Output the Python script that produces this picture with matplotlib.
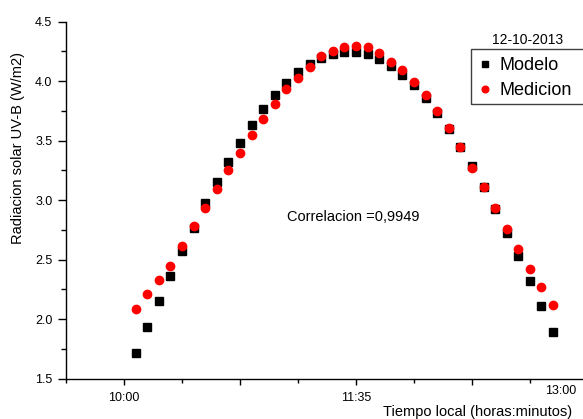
import matplotlib
matplotlib.use("Agg")
import matplotlib.pyplot as plt
from matplotlib.patches import Rectangle
from matplotlib.ticker import FixedLocator, NullFormatter

plt.rcParams['font.family'] = ['Liberation Sans', 'DejaVu Sans']

# minutes after 10:00
minutes = [4.75, 9.5, 14.25, 19.0, 23.75, 28.5, 33.25, 38.0, 42.75, 47.5,
           52.25, 57.0, 61.75, 66.5, 71.25, 76.0, 80.75, 85.5, 90.25, 95.0,
           99.75, 104.5, 109.25, 114.0, 118.75, 123.5, 128.25, 133.0, 137.75,
           142.5, 147.25, 152.0, 156.75, 161.5, 166.25, 171.0, 175.75]

modelo = [1.716, 1.934, 2.155, 2.363, 2.573, 2.769, 2.974, 3.150, 3.320, 3.481,
          3.629, 3.769, 3.884, 3.987, 4.077, 4.147, 4.197, 4.228, 4.245, 4.245,
          4.229, 4.187, 4.128, 4.055, 3.968, 3.858, 3.735, 3.596, 3.445, 3.287,
          3.108, 2.928, 2.727, 2.531, 2.324, 2.113, 1.895]

medicion = [2.088, 2.209, 2.329, 2.445, 2.615, 2.781, 2.937, 3.097, 3.254, 3.399,
            3.548, 3.682, 3.811, 3.937, 4.029, 4.122, 4.209, 4.251, 4.285, 4.296,
            4.285, 4.234, 4.164, 4.092, 3.996, 3.888, 3.752, 3.604, 3.450, 3.273,
            3.112, 2.937, 2.758, 2.590, 2.422, 2.271, 2.117]

x_major = [0.0, 47.5, 95.0, 142.5, 190.0]
x_major_labels = ['10:00', '', '11:35', '', '']
x_minor = [-23.75, 23.75, 71.25, 118.75, 166.25]
y_ticks = [1.5, 2.0, 2.5, 3.0, 3.5, 4.0, 4.5]
y_labels = ['1.5', '2.0', '2.5', '3.0', '3.5', '4.0', '4.5']
y_minor = [1.75, 2.25, 2.75, 3.25, 3.75, 4.25]

fig = plt.figure(figsize=(5.83, 4.19), dpi=100)
ax = fig.add_axes([66/583, 1 - 378.7/419, 1 - 66/583, (378.7 - 21.7)/419])

ax.plot(minutes, modelo, linestyle='none', marker='s', markersize=5.4,
        color='black', label='Modelo', zorder=3)
ax.plot(minutes, medicion, linestyle='none', marker='o', markersize=6.0,
        color='#ff0000', label='Medicion', zorder=4)

ax.set_xlim(-23.75, 188.0)
ax.set_ylim(1.5, 4.5)

ax.spines['top'].set_visible(False)
ax.spines['right'].set_visible(False)
for s in ('left', 'bottom'):
    ax.spines[s].set_linewidth(1.0)
    ax.spines[s].set_color('black')

ax.xaxis.set_major_locator(FixedLocator(x_major))
ax.set_xticklabels(x_major_labels)
ax.xaxis.set_minor_locator(FixedLocator(x_minor))
ax.xaxis.set_minor_formatter(NullFormatter())
ax.set_yticks(y_ticks)
ax.set_yticklabels(y_labels)
ax.yaxis.set_minor_locator(FixedLocator(y_minor))

ax.tick_params(axis='y', which='major', length=5.8, width=1.0, labelsize=9,
               pad=4, colors='black')
ax.tick_params(axis='y', which='minor', length=3.6, width=1.0)
ax.tick_params(axis='x', which='major', length=4.5, width=1.0, labelsize=9,
               pad=5, colors='black')
ax.tick_params(axis='x', which='minor', length=2.6, width=1.0)

fig.text(561/583, 1 - 391/419, '13:00', ha='center', va='center', fontsize=9)

fig.text(18/583, 1 - 148/419, 'Radiacion solar UV-B (W/m2)', rotation=90,
         ha='center', va='center', fontsize=10.5)
fig.text(478/583, 1 - 412/419, 'Tiempo local (horas:minutos)', ha='center',
         va='center', fontsize=10.5)

fig.text(353/583, 1 - 217/419, 'Correlacion =0,9949', ha='center', va='center',
         fontsize=10.5)

fig.text(528/583, 1 - 40/419, '12-10-2013', ha='center', va='center', fontsize=10)

leg = fig.legend(loc='upper left', bbox_to_anchor=(471/583, 1 - 49.3/419),
                 borderaxespad=0, fontsize=13, frameon=False,
                 handlelength=0.75, handletextpad=0.4, borderpad=0.42,
                 labelspacing=0.45, markerscale=0.8)

# legend frame, running off the right edge like in the reference
frame = Rectangle((471/583, 1 - 104.5/419), 140/583, (104.5 - 49.3)/419,
                  transform=fig.transFigure, fill=False, edgecolor='#404040',
                  linewidth=1.0)
fig.patches.append(frame)

fig.savefig('out.png', dpi=100)
